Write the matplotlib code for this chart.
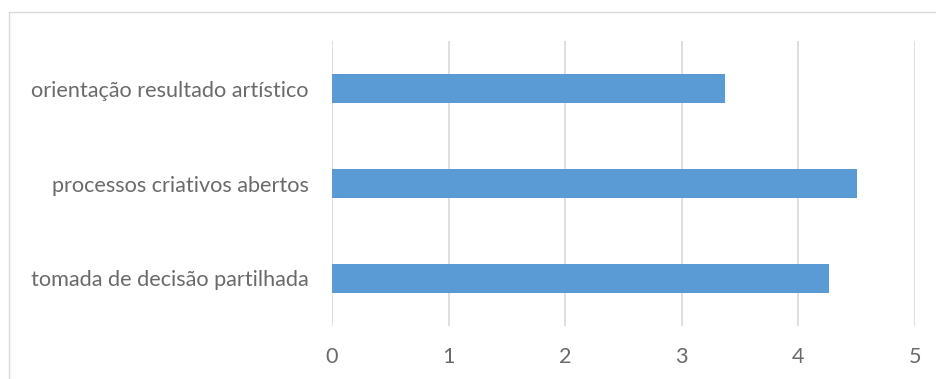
import matplotlib
matplotlib.use("Agg")
import matplotlib.pyplot as plt
from matplotlib.patches import Rectangle

categories = ["tomada de decisão partilhada", "processos criativos abertos", "orientação resultado artístico"]
values = [4.26, 4.50, 3.37]
xticks = [0, 1, 2, 3, 4, 5]

W, H = 937, 379
fig = plt.figure(figsize=(W / 100, H / 100), dpi=100)
ax = fig.add_axes([332 / W, 1 - 326 / H, (915 - 332) / W, (326 - 41) / H])

ax.barh(range(len(categories)), values, height=0.31, color="#5B9BD5", zorder=3)
ax.set_xlim(0, 5)
ax.set_ylim(-0.5, len(categories) - 0.5)
ax.set_xticks(xticks)
ax.set_xticklabels([str(t) for t in xticks])
ax.set_yticks(range(len(categories)))
ax.set_yticklabels(categories)
ax.grid(axis="x", color="#D9D9D9", linewidth=1.2, zorder=0)
for s in ax.spines.values():
    s.set_visible(False)
ax.tick_params(axis="both", length=0, colors="#6A6A6A", labelsize=15.6)
ax.tick_params(axis="x", pad=15)
ax.tick_params(axis="y", pad=17)
for lbl in ax.get_xticklabels() + ax.get_yticklabels():
    lbl.set_family("Lato")

fig.patches.append(Rectangle((9 / W, -0.1), 1.2, 1 - 12 / H + 0.1, transform=fig.transFigure,
                             fill=False, edgecolor="#D9D9D9", linewidth=1))

fig.savefig("out.png", dpi=100)
